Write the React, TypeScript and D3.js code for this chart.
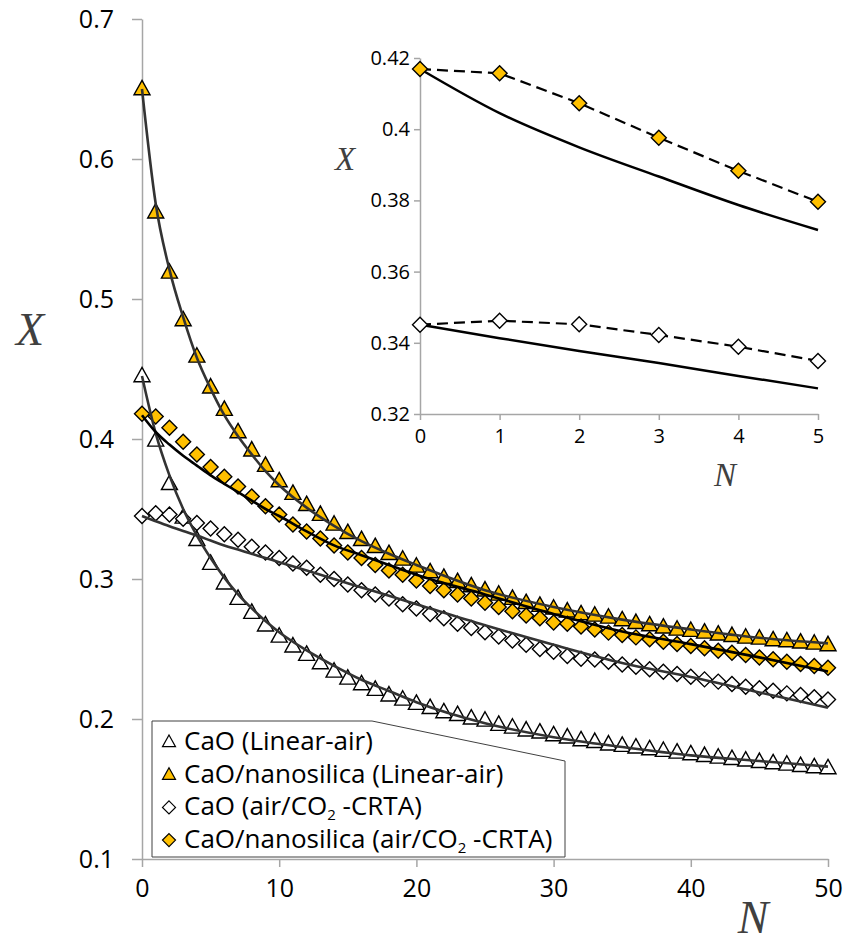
import React, { useEffect, useRef } from "react";
import * as d3 from "d3";

// cycle number N for the measured points
const cycles = d3.range(0, 51);

const caoLinear = [
  0.445, 0.399, 0.368, 0.344, 0.328, 0.311, 0.297, 0.286, 0.276, 0.267,
  0.259, 0.252, 0.246, 0.240, 0.234, 0.229, 0.225, 0.221, 0.217, 0.214,
  0.211, 0.208, 0.205, 0.203, 0.2005, 0.199, 0.196, 0.194, 0.192, 0.1905,
  0.1886, 0.187, 0.185, 0.1838, 0.182, 0.181, 0.1798, 0.1786, 0.1774, 0.1762,
  0.175, 0.1738, 0.1726, 0.1716, 0.1705, 0.1695, 0.1686, 0.1676, 0.1666, 0.1657,
  0.165,
];
const nanoLinear = [
  0.65, 0.562, 0.519, 0.485, 0.459, 0.437, 0.421, 0.405, 0.392, 0.381,
  0.37, 0.361, 0.353, 0.346, 0.339, 0.333, 0.328, 0.323, 0.318, 0.314,
  0.309, 0.305, 0.301, 0.298, 0.295, 0.292, 0.289, 0.286, 0.283, 0.281,
  0.279, 0.277, 0.275, 0.274, 0.2726, 0.2707, 0.2688, 0.2671, 0.2655, 0.264,
  0.2631, 0.2619, 0.2605, 0.2595, 0.2583, 0.2576, 0.2564, 0.2557, 0.2548, 0.254,
  0.2529,
];
const caoCrta = [
  0.345, 0.347, 0.346, 0.343, 0.34, 0.336, 0.332, 0.328, 0.323, 0.319,
  0.315, 0.311, 0.308, 0.303, 0.3, 0.296, 0.292, 0.289, 0.286, 0.282,
  0.279, 0.275, 0.272, 0.268, 0.265, 0.262, 0.259, 0.256, 0.253, 0.25,
  0.248, 0.245, 0.243, 0.2425, 0.2409, 0.239, 0.2374, 0.2355, 0.2338, 0.2321,
  0.2302, 0.2283, 0.2267, 0.225, 0.2231, 0.2219, 0.2202, 0.2183, 0.2171, 0.2155,
  0.214,
];
const nanoCrta = [
  0.418, 0.416, 0.408, 0.398, 0.389, 0.38, 0.373, 0.366, 0.359, 0.352,
  0.346, 0.339, 0.334, 0.329, 0.324, 0.319, 0.315, 0.31, 0.306, 0.303,
  0.299, 0.295, 0.292, 0.289, 0.286, 0.283, 0.28, 0.277, 0.274, 0.272,
  0.269, 0.268, 0.266, 0.264, 0.2617, 0.26, 0.2583, 0.2569, 0.2552, 0.2536,
  0.2521, 0.2505, 0.2488, 0.2474, 0.2457, 0.244, 0.2426, 0.2409, 0.2393, 0.2379,
  0.2366,
];

// model curves (solid lines)
const fitN = [0, 1, 2, 3, 4, 5, 6, 7, 8, 9, 10, 12, 14, 16, 18, 20, 25, 30, 35, 40, 45, 50];
const fitCaoLinear = [
  0.445, 0.404, 0.374, 0.35, 0.331, 0.315, 0.301, 0.289, 0.279, 0.27, 0.262,
  0.249, 0.238, 0.228, 0.22, 0.212, 0.197, 0.187, 0.18, 0.174, 0.17, 0.166,
];
const fitNanoLinear = [
  0.65, 0.568, 0.521, 0.487, 0.458, 0.436, 0.417, 0.402, 0.389, 0.377, 0.367,
  0.351, 0.338, 0.327, 0.318, 0.31, 0.292, 0.28, 0.271, 0.264, 0.258, 0.254,
];
const fitCaoCrta = [
  0.345, 0.3413, 0.3377, 0.3343, 0.331, 0.3275, 0.324, 0.321, 0.318, 0.315, 0.312,
  0.306, 0.3, 0.294, 0.288, 0.282, 0.267, 0.253, 0.24, 0.23, 0.219, 0.208,
];
const fitNanoCrta = [
  0.417, 0.405, 0.396, 0.388, 0.381, 0.374, 0.368, 0.362, 0.356, 0.35, 0.345,
  0.334, 0.324, 0.317, 0.31, 0.303, 0.289, 0.275, 0.2625, 0.2535, 0.244, 0.234,
];

// inset: first five cycles of the CRTA runs
const insetN = [0, 1, 2, 3, 4, 5];
const insetNanoCrta = [0.4169, 0.4157, 0.4073, 0.3976, 0.3883, 0.3796];
const insetCaoCrta = [0.3451, 0.3462, 0.3452, 0.3422, 0.3389, 0.3349];
const insetFitNano = [0.4169, 0.4045, 0.3949, 0.3867, 0.3787, 0.3717];
const insetFitCao = [0.3451, 0.3413, 0.3377, 0.3343, 0.3307, 0.3272];

const mainYTicks = [0.1, 0.2, 0.3, 0.4, 0.5, 0.6, 0.7];
const mainXTicks = [0, 10, 20, 30, 40, 50];
const insetYTicks = [0.32, 0.34, 0.36, 0.38, 0.4, 0.42];
const insetXTicks = [0, 1, 2, 3, 4, 5];

const legendItems = [
  { name: "CaO (Linear-air)", shape: "tri", fill: "#ffffff" },
  { name: "CaO/nanosilica (Linear-air)", shape: "tri", fill: "#ffc000" },
  { name: "CaO (air/CO|2| -CRTA)", shape: "dia", fill: "#ffffff" },
  { name: "CaO/nanosilica (air/CO|2| -CRTA)", shape: "dia", fill: "#ffc000" },
];

const ORANGE = "#ffc000";
const AXIS = "#a6a6a6";
const FONT = "'Open Sans', sans-serif";

function markerPath(shape, s) {
  if (shape === "tri") {
    const h = s * 0.9;
    return `M0,${-h * 0.6}L${s / 2},${h * 0.4}L${-s / 2},${h * 0.4}Z`;
  }
  const r = s / 2;
  return `M0,${-r}L${r},0L0,${r}L${-r},0Z`;
}

export default function App() {
  const ref = useRef(null);

  useEffect(() => {
    const svg = d3.select(ref.current);
    svg.selectAll("*").remove();

    svg.append("rect").attr("width", 847).attr("height", 943).attr("fill", "#fff");

    // ---------- main chart ----------
    const x = d3.scaleLinear().domain([0, 50]).range([142, 828]);
    const y = d3.scaleLinear().domain([0.1, 0.7]).range([859, 19]);

    const yAxis = svg.append("g")
      .attr("transform", "translate(142,0)")
      .call(d3.axisLeft(y).tickValues(mainYTicks).tickSize(10).tickSizeOuter(0)
        .tickPadding(18).tickFormat(d3.format(".1f")));
    const xAxis = svg.append("g")
      .attr("transform", "translate(0,859)")
      .call(d3.axisBottom(x).tickValues(mainXTicks).tickSize(8).tickSizeOuter(0)
        .tickFormat(d3.format("d")));
    xAxis.selectAll("text").attr("dy", null).attr("y", 38);

    [yAxis, xAxis].forEach((g) => {
      g.select(".domain").attr("stroke", AXIS).attr("stroke-width", 1.5);
      g.selectAll(".tick line").attr("stroke", AXIS).attr("stroke-width", 1.5);
      g.selectAll("text").attr("font-family", FONT).attr("font-size", 25).attr("fill", "#000");
    });

    svg.append("text").attr("x", 30).attr("y", 345).attr("text-anchor", "middle")
      .attr("font-family", "'Liberation Serif', serif").attr("font-style", "italic")
      .attr("font-size", 46).attr("fill", "#404040").text("X");
    svg.append("text").attr("x", 753).attr("y", 933).attr("text-anchor", "middle")
      .attr("font-family", "'Liberation Serif', serif").attr("font-style", "italic")
      .attr("font-size", 46).attr("fill", "#404040").text("N");

    const series = [
      { values: caoLinear, shape: "tri", fill: "#fff" },
      { values: nanoLinear, shape: "tri", fill: ORANGE },
      { values: caoCrta, shape: "dia", fill: "#fff" },
      { values: nanoCrta, shape: "dia", fill: ORANGE },
    ];
    series.forEach((s) => {
      svg.append("g").selectAll("path")
        .data(s.values)
        .enter().append("path")
        .attr("d", markerPath(s.shape, s.shape === "tri" ? 16 : 15))
        .attr("transform", (d, i) => `translate(${x(cycles[i])},${y(d)})`)
        .attr("fill", s.fill)
        .attr("stroke", "#000")
        .attr("stroke-width", 1.4);
    });

    const fitLine = d3.line()
      .x((d, i) => x(fitN[i]))
      .y((d) => y(d))
      .curve(d3.curveMonotoneX);
    [
      { values: fitCaoLinear, color: "#333" },
      { values: fitNanoLinear, color: "#333" },
      { values: fitCaoCrta, color: "#333" },
      { values: fitNanoCrta, color: "#000" },
    ].forEach((f) => {
      svg.append("path").attr("d", fitLine(f.values))
        .attr("fill", "none").attr("stroke", f.color).attr("stroke-width", 2.6);
    });

    // ---------- legend ----------
    const lg = svg.append("g");
    lg.append("path")
      .attr("d", "M152,721H372L565,761V857H152Z")
      .attr("fill", "#fff").attr("stroke", "#404040").attr("stroke-width", 1);
    legendItems.forEach((item, i) => {
      const by = 750 + i * 32.7;
      lg.append("path")
        .attr("d", markerPath(item.shape, 13))
        .attr("transform", `translate(169,${by - 8})`)
        .attr("fill", item.fill).attr("stroke", "#000").attr("stroke-width", 1.2);
      const t = lg.append("text").attr("x", 184).attr("y", by)
        .attr("font-family", FONT).attr("font-size", 26).attr("fill", "#000");
      item.name.split("|").forEach((part, k) => {
        if (k === 1) {
          t.append("tspan").attr("font-size", 15).attr("dy", 5).text(part);
        } else if (k === 2) {
          t.append("tspan").attr("dy", -5).text(part);
        } else {
          t.append("tspan").text(part);
        }
      });
    });

    // ---------- inset ----------
    const ix = d3.scaleLinear().domain([0, 5]).range([420, 818]);
    const iy = d3.scaleLinear().domain([0.32, 0.42]).range([414, 58]);

    const iyAxis = svg.append("g")
      .attr("transform", "translate(420,0)")
      .call(d3.axisLeft(iy).tickValues(insetYTicks).tickSize(6).tickSizeOuter(0)
        .tickPadding(4).tickFormat((d) => String(+d.toFixed(2))));
    const ixAxis = svg.append("g")
      .attr("transform", "translate(0,414)")
      .call(d3.axisBottom(ix).tickValues(insetXTicks).tickSize(6).tickSizeOuter(0)
        .tickFormat(d3.format("d")));
    ixAxis.selectAll("text").attr("dy", null).attr("y", 29);
    [iyAxis, ixAxis].forEach((g) => {
      g.select(".domain").attr("stroke", AXIS).attr("stroke-width", 1.5);
      g.selectAll(".tick line").attr("stroke", AXIS).attr("stroke-width", 1.5);
      g.selectAll("text").attr("font-family", FONT).attr("font-size", 20).attr("fill", "#000");
    });

    svg.append("text").attr("x", 345).attr("y", 170).attr("text-anchor", "middle")
      .attr("font-family", "'Liberation Serif', serif").attr("font-style", "italic")
      .attr("font-size", 33).attr("fill", "#404040").text("X");
    svg.append("text").attr("x", 725).attr("y", 486).attr("text-anchor", "middle")
      .attr("font-family", "'Liberation Serif', serif").attr("font-style", "italic")
      .attr("font-size", 33).attr("fill", "#404040").text("N");

    const insetLine = d3.line()
      .x((d, i) => ix(insetN[i]))
      .y((d) => iy(d));
    const insetCurve = d3.line()
      .x((d, i) => ix(insetN[i]))
      .y((d) => iy(d))
      .curve(d3.curveMonotoneX);

    [insetFitNano, insetFitCao].forEach((v) => {
      svg.append("path").attr("d", insetCurve(v))
        .attr("fill", "none").attr("stroke", "#000").attr("stroke-width", 2.5);
    });
    [insetNanoCrta, insetCaoCrta].forEach((v) => {
      svg.append("path").attr("d", insetLine(v))
        .attr("fill", "none").attr("stroke", "#000").attr("stroke-width", 2.2)
        .attr("stroke-dasharray", "11,6");
    });
    [
      { values: insetNanoCrta, fill: ORANGE },
      { values: insetCaoCrta, fill: "#fff" },
    ].forEach((s) => {
      svg.append("g").selectAll("path")
        .data(s.values)
        .enter().append("path")
        .attr("d", markerPath("dia", 15))
        .attr("transform", (d, i) => `translate(${ix(insetN[i])},${iy(d)})`)
        .attr("fill", s.fill)
        .attr("stroke", "#000")
        .attr("stroke-width", 1.4);
    });
  }, []);

  return (
    <svg
      ref={ref}
      width={847}
      height={943}
      style={{ position: "absolute", left: 0, top: 0 }}
    />
  );
}
